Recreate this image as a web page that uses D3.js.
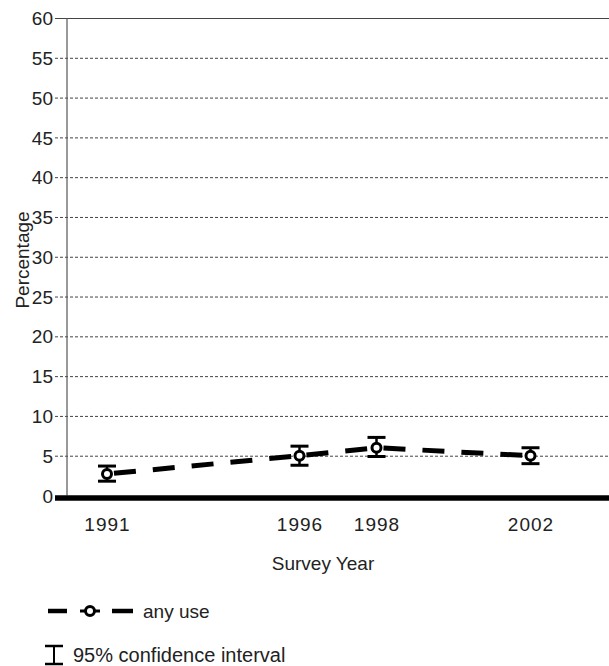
<!DOCTYPE html>
<html>
<head>
<meta charset="utf-8">
<script src="https://cdn.jsdelivr.net/npm/d3@7"></script>
<style>
  html, body { margin: 0; padding: 0; background: #fff; }
  svg text { font-family: "Liberation Sans", Arial, sans-serif; fill: #222; }
</style>
</head>
<body>
<svg id="chart" width="609" height="666"></svg>
<script>
// Survey years and percentage reporting any use, with 95% confidence bounds
const years = [1991, 1996, 1998, 2002];
const anyUse = [2.7, 5.0, 6.0, 5.0];
const ciLow = [1.8, 3.8, 4.9, 4.0];
const ciHigh = [3.7, 6.2, 7.3, 6.0];
const yTicks = [0, 5, 10, 15, 20, 25, 30, 35, 40, 45, 50, 55, 60];
const xTicks = [1991, 1996, 1998, 2002];

const svg = d3.select("#chart");
const plotLeft = 67, plotRight = 609, plotTop = 18, plotBottom = 495.5;

const x = d3.scaleLinear().domain([1991, 2002]).range([107, 530.5]);
const y = d3.scaleLinear().domain([0, 60]).range([plotBottom, plotTop]);

// horizontal dotted gridlines with tick labels
const yAxis = d3.axisLeft(y).tickValues(yTicks).tickSize(-(plotRight - 55)).tickPadding(2);
const gy = svg.append("g").attr("transform", `translate(55,0)`).call(yAxis);
gy.select(".domain").remove();
gy.selectAll(".tick line")
  .attr("stroke", "#444")
  .attr("stroke-width", 1)
  .attr("stroke-dasharray", d => d === 60 ? null : "3,2");
gy.selectAll(".tick").filter(d => d === 0).select("line").remove();
gy.selectAll(".tick text")
  .attr("font-size", 19)
  .attr("font-family", "Liberation Sans, Arial, sans-serif")
  .attr("fill", "#222")
  .attr("dy", "0.35em");

// vertical axis line
svg.append("line")
  .attr("x1", plotLeft).attr("x2", plotLeft)
  .attr("y1", plotTop).attr("y2", plotBottom)
  .attr("stroke", "#555").attr("stroke-width", 1.2);

// heavy baseline
svg.append("line")
  .attr("x1", 55).attr("x2", plotRight)
  .attr("y1", y(0) + 2.5).attr("y2", y(0) + 2.5)
  .attr("stroke", "#000").attr("stroke-width", 5.5);

// x tick labels
svg.append("g").selectAll("text").data(xTicks).join("text")
  .attr("x", d => x(d) + 0.5).attr("y", 531)
  .attr("text-anchor", "middle")
  .attr("font-size", 19)
  .attr("letter-spacing", 1)
  .text(d => d);

// axis titles
svg.append("text")
  .attr("x", 323).attr("y", 570)
  .attr("text-anchor", "middle").attr("font-size", 19)
  .text("Survey Year");
svg.append("text")
  .attr("transform", "translate(29,260) rotate(-90)")
  .attr("text-anchor", "middle").attr("font-size", 19)
  .text("Percentage");

// dashed connecting line, one segment per pair of surveys
const pts = years.map((yr, i) => ({ yr, v: anyUse[i], lo: ciLow[i], hi: ciHigh[i] }));
const segs = d3.pairs(pts);
svg.append("g").selectAll("line").data(segs).join("line")
  .attr("x1", d => x(d[0].yr)).attr("y1", d => y(d[0].v))
  .attr("x2", d => x(d[1].yr)).attr("y2", d => y(d[1].v))
  .attr("stroke", "#000").attr("stroke-width", 5)
  .attr("stroke-dasharray", "0,7,22,10");

// confidence interval bars
const eb = svg.append("g").attr("stroke", "#000");
eb.selectAll(".stem").data(pts).join("line")
  .attr("x1", d => x(d.yr)).attr("x2", d => x(d.yr))
  .attr("y1", d => y(d.hi)).attr("y2", d => y(d.lo))
  .attr("stroke-width", 2.5);
eb.selectAll(".capT").data(pts).join("line")
  .attr("x1", d => x(d.yr) - 9).attr("x2", d => x(d.yr) + 9)
  .attr("y1", d => y(d.hi)).attr("y2", d => y(d.hi))
  .attr("stroke-width", 3);
eb.selectAll(".capB").data(pts).join("line")
  .attr("x1", d => x(d.yr) - 9).attr("x2", d => x(d.yr) + 9)
  .attr("y1", d => y(d.lo)).attr("y2", d => y(d.lo))
  .attr("stroke-width", 3);

// point markers
svg.append("g").selectAll("circle").data(pts).join("circle")
  .attr("cx", d => x(d.yr)).attr("cy", d => y(d.v))
  .attr("r", 4.5)
  .attr("fill", "#fff").attr("stroke", "#000").attr("stroke-width", 3);

// legend
const lg = svg.append("g");
const ly = 611;
lg.append("line").attr("x1", 48).attr("x2", 67).attr("y1", ly).attr("y2", ly)
  .attr("stroke", "#000").attr("stroke-width", 4.5);
lg.append("line").attr("x1", 80).attr("x2", 100).attr("y1", ly).attr("y2", ly)
  .attr("stroke", "#000").attr("stroke-width", 3);
lg.append("circle").attr("cx", 90).attr("cy", ly).attr("r", 4.5)
  .attr("fill", "#fff").attr("stroke", "#000").attr("stroke-width", 3);
lg.append("line").attr("x1", 112).attr("x2", 133).attr("y1", ly).attr("y2", ly)
  .attr("stroke", "#000").attr("stroke-width", 4.5);
lg.append("text").attr("x", 143).attr("y", 618).attr("font-size", 19).text("any use");

const cx = 54;
lg.append("line").attr("x1", cx).attr("x2", cx).attr("y1", 646).attr("y2", 664)
  .attr("stroke", "#000").attr("stroke-width", 2);
lg.append("line").attr("x1", cx - 9).attr("x2", cx + 9).attr("y1", 646).attr("y2", 646)
  .attr("stroke", "#000").attr("stroke-width", 2.5);
lg.append("line").attr("x1", cx - 9).attr("x2", cx + 9).attr("y1", 664).attr("y2", 664)
  .attr("stroke", "#000").attr("stroke-width", 2.5);
lg.append("text").attr("x", 73).attr("y", 662).attr("font-size", 20).text("95% confidence interval");
</script>
</body>
</html>
